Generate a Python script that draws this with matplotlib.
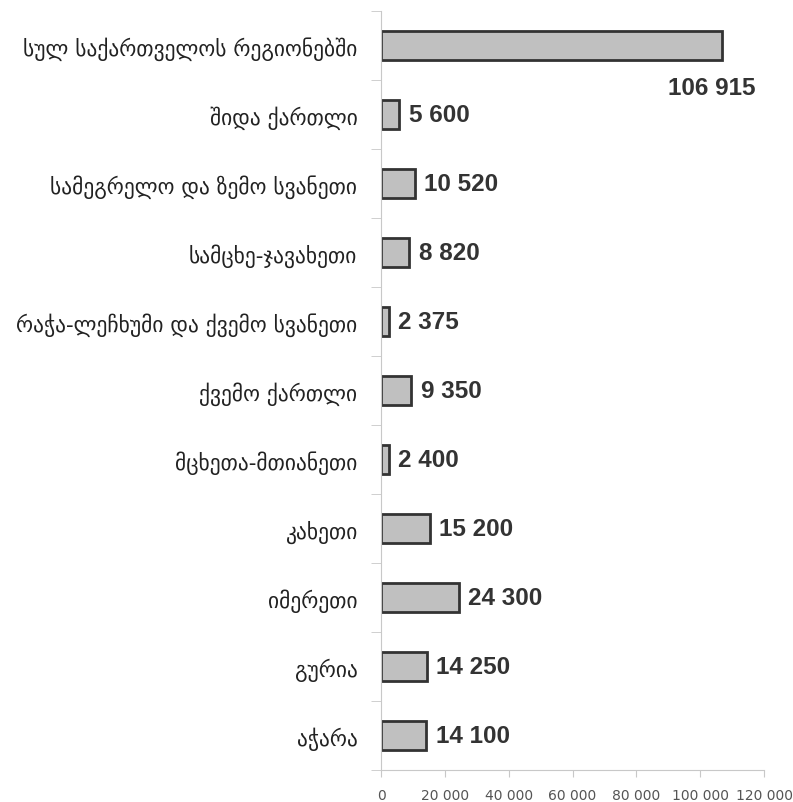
import numpy as np
import matplotlib.pyplot as plt

regions = [
    "სულ საქართველოს რეგიონებში",
    "შიდა ქართლი",
    "სამეგრელო და ზემო სვანეთი",
    "სამცხე-ჯავახეთი",
    "რაჭა-ლეჩხუმი და ქვემო სვანეთი",
    "ქვემო ქართლი",
    "მცხეთა-მთიანეთი",
    "კახეთი",
    "იმერეთი",
    "გურია",
    "აჭარა",
]
values = [106915, 5600, 10520, 8820, 2375, 9350, 2400, 15200, 24300, 14250, 14100]
xticks = [0, 20000, 40000, 60000, 80000, 100000, 120000]


def fmt(v):
    return f"{v:,}".replace(",", " ")


fig = plt.figure(figsize=(7.93, 8.03), dpi=100)
ax = fig.add_axes([0.4805, 0.04, 0.483, 0.945])

y = np.arange(len(regions))
ax.barh(y, values, height=0.42, color="#c0c0c0", edgecolor="#333333", linewidth=2)

ax.set_ylim(len(regions) - 0.5, -0.5)
ax.set_xlim(0, 120000)

# category labels centred, tick marks between categories
ax.set_yticks(y)
ax.set_yticklabels(regions, fontsize=15.5, color="#222222")
ax.tick_params(axis="y", which="major", length=0, pad=17)
ax.set_yticks(np.arange(-0.5, len(regions), 1), minor=True)
ax.tick_params(axis="y", which="minor", length=7, color="#c8c8c8", direction="out")

ax.set_xticks(xticks)
ax.set_xticklabels([fmt(t) for t in xticks], fontsize=10, color="#555555")
ax.tick_params(axis="x", length=5, color="#c8c8c8", pad=8)

for side in ["top", "right"]:
    ax.spines[side].set_visible(False)
for side in ["left", "bottom"]:
    ax.spines[side].set_color("#c8c8c8")

for i, v in enumerate(values):
    if i == 0:
        ax.annotate(fmt(v), (v, i), xytext=(24, -30), textcoords="offset points",
                    ha="right", va="center", fontsize=17.5, fontweight="bold",
                    family="Liberation Sans", color="#333333")
    else:
        ax.annotate(fmt(v), (v, i), xytext=(7, 0), textcoords="offset points",
                    ha="left", va="center", fontsize=17.5, fontweight="bold",
                    family="Liberation Sans", color="#333333")

fig.savefig("out.png", dpi=100)
